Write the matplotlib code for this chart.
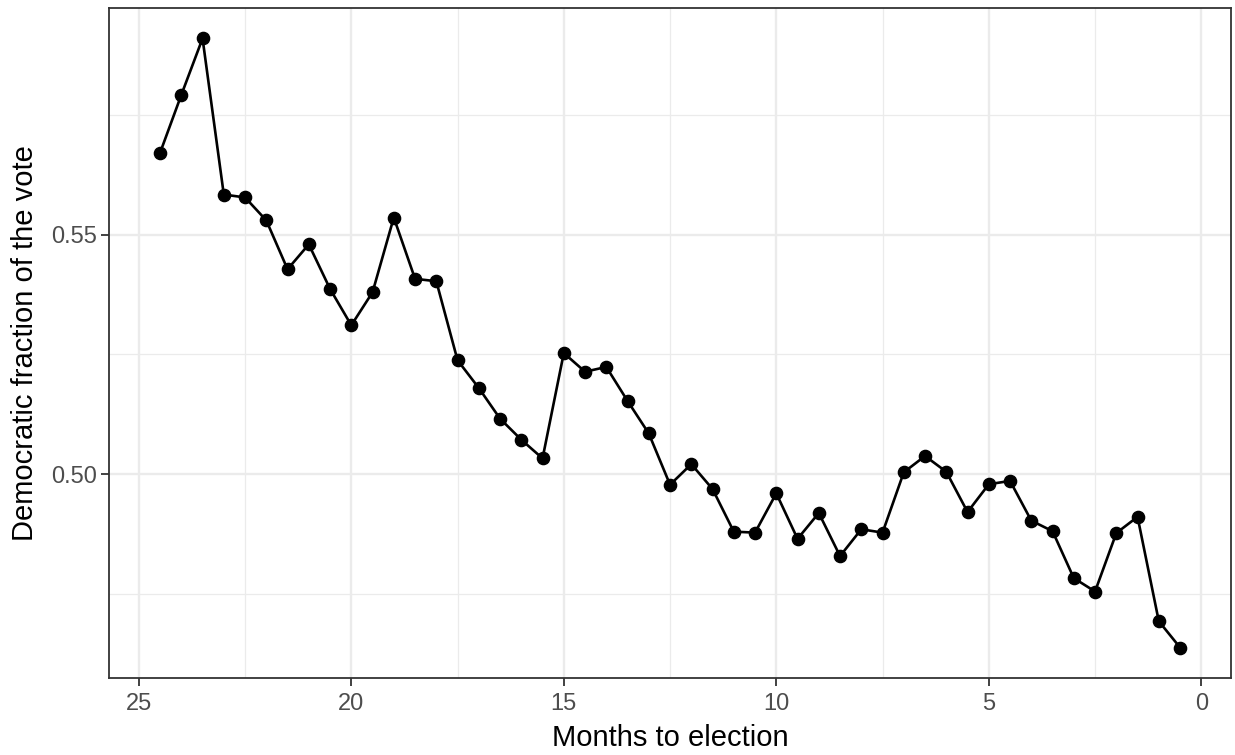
import numpy as np
import matplotlib
matplotlib.use('Agg')
import matplotlib.pyplot as plt
from matplotlib.ticker import MultipleLocator, FormatStrFormatter

# data (months to election, Democratic share)
months = [24.5, 24.0, 23.5, 23.0, 22.5, 22.0, 21.5, 21.0, 20.5, 20.0,
          19.5, 19.0, 18.5, 18.0, 17.5, 17.0, 16.5, 16.0, 15.5, 15.0,
          14.5, 14.0, 13.5, 13.0, 12.5, 12.0, 11.5, 11.0, 10.5, 10.0,
          9.5, 9.0, 8.5, 8.0, 7.5, 7.0, 6.5, 6.0, 5.5, 5.0,
          4.5, 4.0, 3.5, 3.0, 2.5, 2.0, 1.5, 1.0, 0.5]
dem_share = [0.5671, 0.5792, 0.5910, 0.5584, 0.5578, 0.5530, 0.5428, 0.5480, 0.5387, 0.5311,
             0.5380, 0.5536, 0.5408, 0.5403, 0.5238, 0.5180, 0.5116, 0.5072, 0.5033, 0.5253,
             0.5214, 0.5224, 0.5153, 0.5085, 0.4978, 0.5021, 0.4969, 0.4880, 0.4878, 0.4960,
             0.4865, 0.4919, 0.4829, 0.4885, 0.4878, 0.5004, 0.5038, 0.5005, 0.4921, 0.4979,
             0.4986, 0.4903, 0.4881, 0.4783, 0.4755, 0.4877, 0.4911, 0.4693, 0.4638]

plt.rcParams['font.family'] = ['Liberation Sans', 'DejaVu Sans']

fig = plt.figure(figsize=(12.35, 7.55), dpi=100)
ax = fig.add_axes([0.0883, 0.1020, 0.9085, 0.8874])

ax.plot(months, dem_share, color='black', linewidth=1.9,
        marker='o', markersize=8.8, zorder=3)

# ggplot-like expanded limits (5%), reversed x
xmin, xmax = min(months), max(months)
ymin, ymax = min(dem_share), max(dem_share)
xpad = (xmax - xmin) * 0.05
ypad = (ymax - ymin) * 0.05
ax.set_xlim(xmax + xpad, xmin - xpad)
ax.set_ylim(ymin - ypad, ymax + ypad)

ax.xaxis.set_major_locator(MultipleLocator(5))
ax.xaxis.set_minor_locator(MultipleLocator(2.5))
ax.yaxis.set_major_locator(MultipleLocator(0.05))
ax.yaxis.set_minor_locator(MultipleLocator(0.025))
ax.yaxis.set_major_formatter(FormatStrFormatter('%.2f'))

ax.grid(True, which='major', color='#EBEBEB', linewidth=1.7, zorder=0)
ax.grid(True, which='minor', color='#EBEBEB', linewidth=0.9, zorder=0)
ax.set_axisbelow(True)

for s in ax.spines.values():
    s.set_color('#333333')
    s.set_linewidth(1.3)

ax.tick_params(which='major', length=5.5, width=1.3, color='#333333',
               labelcolor='#4D4D4D', labelsize=17, pad=3)
ax.tick_params(axis='x', which='major', pad=5)
ax.tick_params(which='minor', length=0)

ax.set_xlabel('Months to election', fontsize=21, labelpad=7)
ax.set_ylabel('Democratic fraction of the vote', fontsize=21, labelpad=9)

fig.savefig('out.png', dpi=100)
